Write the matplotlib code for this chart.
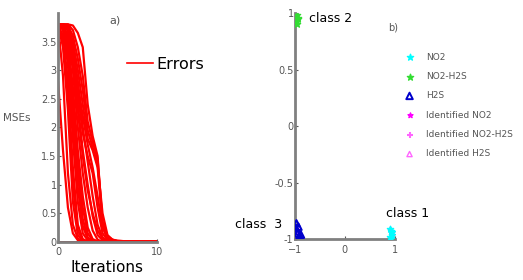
import matplotlib.pyplot as plt
from matplotlib.lines import Line2D

# MSE curves, sampled at these iterations
iters = [0, 0.5, 1, 1.5, 2, 2.5, 3, 3.5, 4, 4.5, 5, 5.5, 6, 7, 10]
mse_curves = [
    [2.8, 1.6, 0.6, 0.15, 0.03, 0, 0, 0, 0, 0, 0, 0, 0, 0, 0],
    [3.8, 2.9, 1.2, 0.3, 0.06, 0.01, 0, 0, 0, 0, 0, 0, 0, 0, 0],
    [3.8, 3.4, 2.3, 0.7, 0.12, 0.02, 0, 0, 0, 0, 0, 0, 0, 0, 0],
    [3.8, 3.5, 2.6, 1.0, 0.2, 0.03, 0, 0, 0, 0, 0, 0, 0, 0, 0],
    [3.8, 3.6, 2.8, 1.3, 0.3, 0.05, 0.01, 0, 0, 0, 0, 0, 0, 0, 0],
    [3.8, 3.7, 3.1, 1.8, 0.7, 0.15, 0.03, 0, 0, 0, 0, 0, 0, 0, 0],
    [3.8, 3.72, 3.2, 2.05, 0.95, 0.28, 0.05, 0, 0, 0, 0, 0, 0, 0, 0],
    [3.8, 3.75, 3.3, 2.3, 1.2, 0.4, 0.08, 0.01, 0, 0, 0, 0, 0, 0, 0],
    [3.8, 3.77, 3.4, 2.5, 1.4, 0.6, 0.15, 0.03, 0, 0, 0, 0, 0, 0, 0],
    [3.8, 3.78, 3.5, 2.7, 1.6, 0.8, 0.25, 0.05, 0.01, 0, 0, 0, 0, 0, 0],
    [3.8, 3.8, 3.6, 3.0, 2.0, 1.2, 0.6, 0.2, 0.04, 0, 0, 0, 0, 0, 0],
    [3.8, 3.78, 3.6, 3.1, 2.3, 1.5, 0.9, 0.5, 0.2, 0.06, 0.02, 0.01, 0, 0, 0],
    [3.8, 3.8, 3.7, 3.2, 2.4, 1.6, 1.0, 0.45, 0.12, 0.03, 0.01, 0, 0, 0, 0],
    [3.8, 3.79, 3.7, 3.3, 2.6, 1.9, 1.5, 1.2, 0.6, 0.15, 0.04, 0.02, 0.01, 0, 0],
    [3.8, 3.8, 3.75, 3.4, 2.8, 2.0, 1.4, 0.8, 0.3, 0.08, 0.02, 0.01, 0, 0, 0],
    [3.8, 3.79, 3.72, 3.35, 2.75, 2.2, 1.7, 1.3, 0.8, 0.25, 0.06, 0.02, 0.01, 0, 0],
    [3.8, 3.8, 3.77, 3.5, 3.0, 2.4, 1.8, 1.6, 1.3, 0.3, 0.08, 0.03, 0.01, 0.005, 0],
    [3.8, 3.8, 3.78, 3.6, 3.2, 2.65, 1.95, 1.65, 1.35, 0.5, 0.12, 0.04, 0.02, 0.01, 0],
    [3.8, 3.8, 3.8, 3.7, 3.4, 2.9, 2.1, 1.75, 1.45, 0.35, 0.1, 0.04, 0.02, 0.01, 0],
    [3.8, 3.8, 3.8, 3.78, 3.65, 3.4, 2.4, 1.85, 1.5, 0.3, 0.08, 0.03, 0.01, 0.005, 0],
]
mse_yticks = [0, 0.5, 1, 1.5, 2, 2.5, 3, 3.5]

# classification scatter
no2_x = [0.92, 0.94, 0.90, 0.95, 0.93, 0.91]
no2_y = [-0.93, -0.96, -0.98, -0.94, -0.99, -0.91]
mix_x = [-0.96, -0.94, -0.97, -0.93, -0.95]
mix_y = [0.98, 0.95, 0.92, 0.96, 0.90]
h2s_x = [-0.98, -0.95, -0.92, -0.97, -0.90, -0.96, -0.93, -0.88]
h2s_y = [-0.90, -0.95, -0.98, -0.86, -0.97, -0.93, -0.89, -0.96]

gray = '#808080'
tick_col = '#555555'

fig = plt.figure(figsize=(5.23, 2.8), dpi=100)

# ---- panel a)
ax1 = fig.add_axes([0.111, 0.136, 0.189, 0.818])
for c in mse_curves:
    ax1.plot(iters, c, color='red', lw=1.6)
ax1.plot([0, 10], [0, 0], color='#8b0000', lw=2)
ax1.set_xlim(0, 10)
ax1.set_ylim(0, 4)
ax1.set_xticks([0, 10])
ax1.set_yticks(mse_yticks)
ax1.set_yticklabels([f'{v:g}' for v in mse_yticks])
ax1.set_xlabel('Iterations', fontsize=11, labelpad=2)
ax1.set_ylabel('MSEs', fontsize=7.5, rotation=0, color=tick_col)
ax1.yaxis.set_label_coords(-0.42, 0.52)
ax1.text(0.52, 0.955, 'a)', transform=ax1.transAxes, fontsize=8, color=tick_col)
ax1.legend([Line2D([0], [0], color='red', lw=1.2)], ['Errors'], frameon=False,
           fontsize=11.5, loc='center left', bbox_to_anchor=(0.62, 0.775),
           handlelength=1.6, handletextpad=0.2, borderpad=0)

# ---- panel b)
ax2 = fig.add_axes([0.564, 0.146, 0.191, 0.807])
ax2.scatter(no2_x, no2_y, marker='*', color='magenta', s=14, label='Identified NO2', zorder=2)
ax2.scatter(mix_x, mix_y, marker='+', color='#ff66ff', s=14, label='Identified NO2-H2S', zorder=2)
ax2.scatter(h2s_x, h2s_y, marker='^', facecolor='none', edgecolor='#ff66ff', s=14,
            label='Identified H2S', zorder=2)
ax2.scatter(no2_x, no2_y, marker='*', color='cyan', s=22, label='NO2', zorder=3)
ax2.scatter(mix_x, mix_y, marker='*', color='#33dd33', s=22, label='NO2-H2S', zorder=3)
ax2.scatter(h2s_x, h2s_y, marker='^', facecolor='none', edgecolor='#0000cc', s=22, lw=1.4,
            label='H2S', zorder=3)
ax2.set_xlim(-1, 1)
ax2.set_ylim(-1, 1)
ax2.set_xticks([-1, 0, 1])
ax2.set_yticks([-1, -0.5, 0, 0.5, 1])
ax2.set_yticklabels(['-1', '-0.5', '0', '0.5', '1'])
ax2.text(-0.72, 0.955, 'class 2', fontsize=9, va='center')
ax2.text(0.82, -0.77, 'class 1', fontsize=9, va='center')
ax2.text(-2.2, -0.875, 'class  3', fontsize=9, va='center')
ax2.text(0.86, 0.87, 'b)', fontsize=7, color=tick_col, va='center')
h, l = ax2.get_legend_handles_labels()
order = [3, 4, 5, 0, 1, 2]
ax2.legend([h[i] for i in order], [l[i] for i in order], frameon=False, fontsize=6.5,
           loc='upper left', bbox_to_anchor=(396 / 523, 1 - 48 / 280),
           bbox_transform=fig.transFigure, labelspacing=1.15, handletextpad=0.8,
           labelcolor=tick_col, borderpad=0)

for ax in (ax1, ax2):
    for s in ('top', 'right'):
        ax.spines[s].set_visible(False)
    for s in ('left', 'bottom'):
        ax.spines[s].set_color(gray)
        ax.spines[s].set_linewidth(2)
    ax.tick_params(labelsize=7, colors=tick_col, length=2, direction='in', pad=1)
    ax.tick_params(axis='x', pad=4)

fig.savefig('out.png', dpi=100)
